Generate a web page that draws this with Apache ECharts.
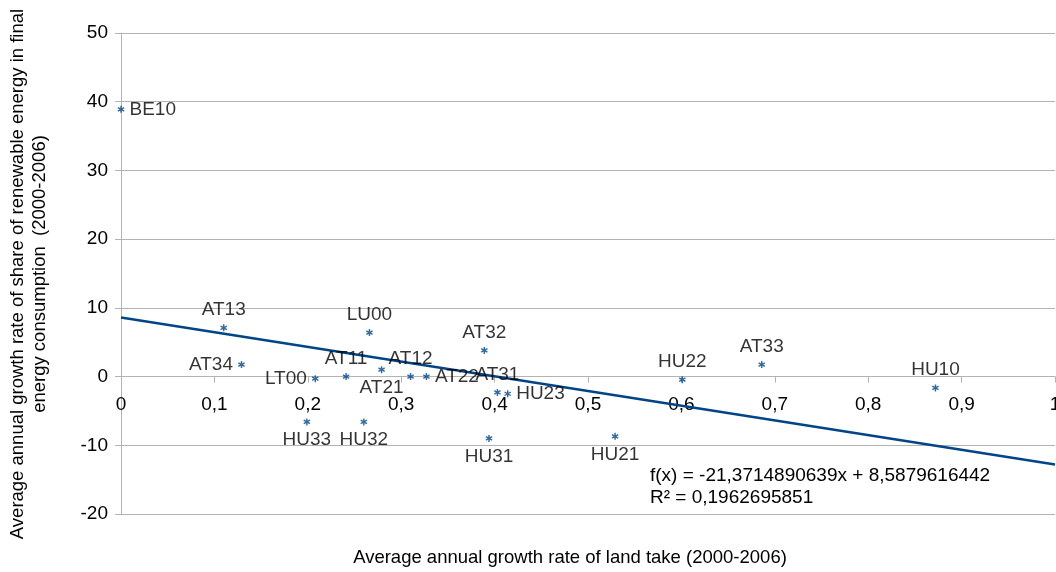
<!DOCTYPE html>
<html>
<head>
<meta charset="utf-8">
<script src="https://cdn.jsdelivr.net/npm/echarts@6/dist/echarts.min.js"></script>
<style>html,body{margin:0;padding:0;background:#fff}#c{width:1056px;height:572px}</style>
</head>
<body>
<div id="c"></div>
<script>
// ---- data ----
var regions = ['BE10','AT13','AT34','LT00','AT11','LU00','AT21','AT12','AT22','HU33','HU32','AT32','AT31','HU23','HU31','HU21','HU22','AT33','HU10'];
var landTake = [0.000,0.110,0.129,0.208,0.241,0.266,0.279,0.310,0.327,0.199,0.260,0.389,0.403,0.414,0.394,0.529,0.601,0.686,0.872];
var renewable = [38.9,7.1,1.75,-0.3,0.0,6.4,1.0,0.0,0.0,-6.6,-6.6,3.8,-2.3,-2.5,-9.0,-8.7,-0.45,1.75,-1.65];
var trendX = [0, 1];
var trendY = [8.5879616442, -12.7835274197];
var equationText = 'f(x) = -21,3714890639x + 8,5879616442';
var r2Text = 'R\u00b2 = 0,1962695851';
var xTitle = 'Average annual growth rate of land take (2000-2006)';
var yTitle1 = 'Average annual growth rate of share of renewable energy in final';
var yTitle2 = 'energy consumption  (2000-2006)';

// label placement (layout only)
var labelPlace = {BE10:'right',AT13:'top',AT34:'left',LT00:'left',AT11:'top',LU00:'top',AT21:'bottom',AT12:'top',AT22:'right',HU33:'bottom',HU32:'bottom',AT32:'top',AT31:'top',HU23:'right',HU31:'bottom',HU21:'bottom',HU22:'top',AT33:'top',HU10:'top'};

var FONT = 'Liberation Sans, Arial, sans-serif';
var BLUE = '#004586';
var asterisk = 'path://M-1,-5L1,-5L1,5L-1,5Z M3.83,-3.366L4.83,-1.634L-3.83,3.366L-4.83,1.634Z M-4.83,-1.634L-3.83,-3.366L4.83,1.634L3.83,3.366Z';

var pts = regions.map(function(n,i){
  return {name:n, value:[landTake[i], renewable[i]], label:{position:labelPlace[n]}};
});
var trend = trendX.map(function(x,i){return [x, trendY[i]];});

function comma(v){ return String(v).replace('.', ','); }

var GRID_TOP = 33, GRID_BOTTOM = 58, H = 572;
var YMIN = -20, YMAX = 50;
var plotH = H - GRID_TOP - GRID_BOTTOM;
var zeroOffset = -plotH * (0 - YMIN) / (YMAX - YMIN);

var chart = echarts.init(document.getElementById('c'), null, {renderer:'canvas'});
chart.setOption({
  animation:false,
  backgroundColor:'#fff',
  grid:{left:121, top:GRID_TOP, right:1, bottom:GRID_BOTTOM, containLabel:false, outerBoundsMode:'none'},
  xAxis:{
    type:'value', min:0, max:1, interval:0.1, position:'bottom', offset:zeroOffset,
    axisLine:{show:true, onZero:false, lineStyle:{color:'#b3b3b3', width:1}},
    axisTick:{show:true, length:6, lineStyle:{color:'#b3b3b3'}},
    splitLine:{show:false},
    axisLabel:{color:'#000', fontFamily:FONT, fontSize:19, margin:19, hideOverlap:false, showMaxLabel:true, formatter:function(v){return comma(Math.round(v*10)/10);}}
  },
  yAxis:{
    type:'value', min:YMIN, max:YMAX, interval:10,
    axisLine:{show:true, onZero:false, lineStyle:{color:'#b3b3b3', width:1}},
    axisTick:{show:true, length:6, lineStyle:{color:'#b3b3b3'}},
    splitLine:{show:true, lineStyle:{color:'#b3b3b3', width:1}},
    axisLabel:{color:'#000', fontFamily:FONT, fontSize:19, margin:13}
  },
  series:[
    {
      type:'line', data:trend, showSymbol:false, symbol:'none',
      lineStyle:{color:BLUE, width:2.5}, z:3, silent:true
    },
    {
      type:'scatter', data:pts, symbol:asterisk, symbolSize:7,
      itemStyle:{color:BLUE},
      label:{show:true, formatter:'{b}', color:'#000', fontFamily:FONT, fontSize:19, distance:5},
      z:4
    }
  ],
  graphic:[
    {type:'text', left:650, top:466, style:{text:equationText, fill:'#000', font:'19px '+FONT}},
    {type:'text', left:650, top:488, style:{text:r2Text, fill:'#000', font:'19px '+FONT}},
    {type:'text', x:570, y:558, style:{text:xTitle, fill:'#000', font:'18.5px '+FONT, align:'center', verticalAlign:'middle'}},
    {type:'text', x:18, y:274, rotation:Math.PI/2, style:{text:yTitle1, fill:'#000', font:'18.5px '+FONT, align:'center', verticalAlign:'middle'}},
    {type:'text', x:40, y:274, rotation:Math.PI/2, style:{text:yTitle2, fill:'#000', font:'18.5px '+FONT, align:'center', verticalAlign:'middle'}}
  ]
});
</script>
</body>
</html>
